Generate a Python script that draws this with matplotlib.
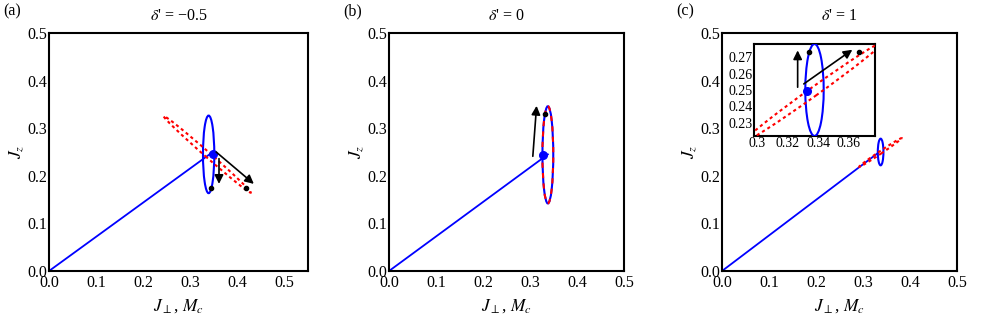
import matplotlib
matplotlib.use("Agg")
import matplotlib.pyplot as plt
from matplotlib.patches import Ellipse

plt.rcParams['font.family'] = ['Liberation Serif', 'DejaVu Serif']
plt.rcParams['mathtext.fontset'] = 'stix'

# data
titles = ["$\\delta$' = \u22120.5", "$\\delta$' = 0", "$\\delta$' = 1"]
panel_tags = ["(a)", "(b)", "(c)"]
xlims = [(0, 0.55), (0, 0.5), (0, 0.5)]
xticks = [[0.0, 0.1, 0.2, 0.3, 0.4, 0.5]] * 3
yticks = [0.0, 0.1, 0.2, 0.3, 0.4, 0.5]

# line from origin to the end point
line_end = [(0.345, 0.248), (0.338, 0.245), (0.332, 0.248)]
# blue ellipse: center x, center y, width, height
blue_ell = [(0.339, 0.245, 0.024, 0.163), (0.338, 0.244, 0.023, 0.204), (0.3375, 0.25, 0.012, 0.056)]
# red dashed ellipse: center x, center y, width, height, angle
red_ell = [(0.336, 0.245, 0.245, 0.011, -41), (0.338, 0.244, 0.204, 0.023, 90), (0.337, 0.249, 0.108, 0.0055, 33.7)]
blue_dot = [(0.348, 0.246), (0.328, 0.244), (0.3326, 0.2494)]
black_dots = [[(0.344, 0.175), (0.419, 0.175)], [(0.331, 0.33)], [(0.3338, 0.2729), (0.3666, 0.2729)]]
# arrows: (x0, y0, x1, y1)
arrows = [[(0.361, 0.236, 0.361, 0.183), (0.355, 0.25, 0.435, 0.183)],
          [(0.306, 0.241, 0.314, 0.347)],
          [(0.3265, 0.2517, 0.3265, 0.2741), (0.3305, 0.2537, 0.3622, 0.2745)]]

inset_xticks = [0.3, 0.32, 0.34, 0.36]
inset_yticks = [0.23, 0.24, 0.25, 0.26, 0.27]

fig = plt.figure(figsize=(9.83, 3.3), dpi=100)
lefts = [49, 389, 722]
widths = [259, 235, 235]


def draw(ax, i, zoom=False):
    ex, ey, ew, eh = blue_ell[i]
    rx, ry, rw, rh, ra = red_ell[i]
    if not zoom:
        ax.plot([0, line_end[i][0]], [0, line_end[i][1]], color='blue', lw=1.3, zorder=2)
    ax.add_patch(Ellipse((ex, ey), ew, eh, fill=False, ec='blue', lw=1.5, zorder=3))
    if i == 1:
        ax.add_patch(Ellipse((rx, ry), rh, rw, fill=False, ec='red', lw=1.5,
                             ls=(0, (2.5, 2.5)), zorder=4))
    else:
        ax.add_patch(Ellipse((rx, ry), rw, rh, angle=ra, fill=False, ec='red', lw=1.5,
                             ls=(0, (1.5, 1.5)), zorder=4))
    if zoom or i != 2:
        ax.plot(*blue_dot[i], 'o', color='blue', ms=5.5, zorder=5)
        for d in black_dots[i]:
            ax.plot(*d, 'o', color='black', ms=3, zorder=5)
        for x0, y0, x1, y1 in arrows[i]:
            ax.annotate('', xy=(x1, y1), xytext=(x0, y0),
                        arrowprops=dict(arrowstyle='-|>', color='black', lw=1.2,
                                        mutation_scale=13, shrinkA=0, shrinkB=0),
                        zorder=6)


for i in range(3):
    ax = fig.add_axes([lefts[i] / 983, 59 / 330, widths[i] / 983, 238 / 330])
    draw(ax, i)
    ax.set_xlim(*xlims[i])
    ax.set_ylim(0, 0.5)
    ax.set_xticks(xticks[i])
    ax.set_yticks(yticks)
    ax.set_xticklabels([f"{t:.1f}" for t in xticks[i]])
    ax.set_yticklabels([f"{t:.1f}" for t in yticks])
    ax.tick_params(length=0, labelsize=11.5)
    ax.tick_params(axis='x', pad=3)
    ax.tick_params(axis='y', pad=1)
    for s in ax.spines.values():
        s.set_linewidth(1.5)
    ax.set_title(titles[i], fontsize=11.5, pad=9)
    ax.set_xlabel(r"$J_{\perp}$, $M_c$", fontsize=12.5, labelpad=4)
    ax.set_ylabel(r"$J_z$", fontsize=12.5, labelpad=1)
    fig.text((lefts[i] - 46) / 983, 1 - 11 / 330, panel_tags[i], fontsize=11.5, va='center')

# inset of panel (c)
axi = fig.add_axes([754 / 983, 194 / 330, 121 / 983, 92 / 330])
draw(axi, 2, zoom=True)
axi.set_xlim(0.298, 0.377)
axi.set_ylim(0.222, 0.278)
axi.set_xticks(inset_xticks)
axi.set_xticklabels(["0.3", "0.32", "0.34", "0.36"])
axi.set_yticks(inset_yticks)
axi.set_yticklabels([f"{t:.2f}" for t in inset_yticks])
axi.tick_params(length=0, pad=1, labelsize=10)
for s in axi.spines.values():
    s.set_linewidth(1.5)

fig.savefig("out.png", dpi=100)
